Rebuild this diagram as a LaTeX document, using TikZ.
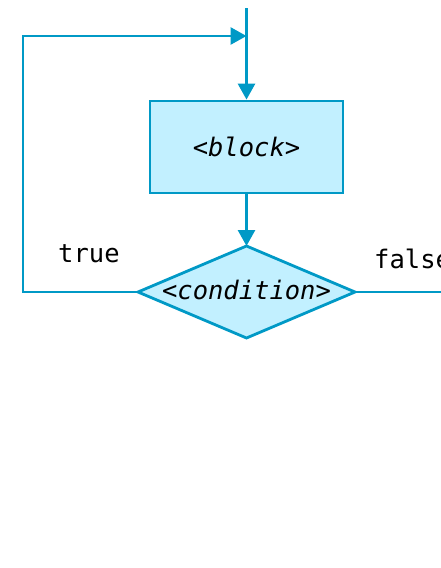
\documentclass[tikz,border=0pt]{standalone}
\usepackage{fontspec}
\setmonofont{DejaVu Sans Mono}
\usetikzlibrary{arrows.meta}
\definecolor{flowline}{RGB}{0,153,198}
\definecolor{flowfill}{RGB}{194,240,255}

\begin{document}
\begin{tikzpicture}[x=1pt,y=-1pt,font=\ttfamily\fontsize{25.5}{30}\selectfont]
\useasboundingbox (0,0) rectangle (441,568);
% corners of the decision diamond
\coordinate (cond-n) at (246.5,246);
\coordinate (cond-e) at (355,292);
\coordinate (cond-s) at (246.5,338);
\coordinate (cond-w) at (138,292);
\draw[flowline,line width=2.8pt,fill=flowfill,line join=miter]
    (cond-n) -- (cond-e) -- (cond-s) -- (cond-w) -- cycle;

\node (block)[rectangle,draw=flowline,line width=2.8pt,fill=flowfill,inner sep=0pt,
    minimum width=193pt,minimum height=92pt] at (246.5,147) {\itshape <block>};
\node (cond)[inner sep=0pt] at (246.5,290) {\itshape <condition>};

\coordinate (top) at (246.5,8);
\coordinate (join) at (246.5,36);
\coordinate (corner) at (23,36);
\coordinate (exit) at (460,292);

\begin{scope}[line width=2.8pt,draw=flowline,-{Triangle[length=16pt,width=17pt]}]
    \draw (top) -- (block);
    \draw (block) -- (cond-n);
    \draw (cond-w) -| (corner) -- (join);
    \draw[-] (cond-e) -- (exit);
\end{scope}

\begin{scope}[every node/.style={anchor=base west,inner sep=0pt}]
    \node (truelbl) at (58,262) {true};
    \node (falselbl) at (374,268) {false};
\end{scope}
\end{tikzpicture}
\end{document}
